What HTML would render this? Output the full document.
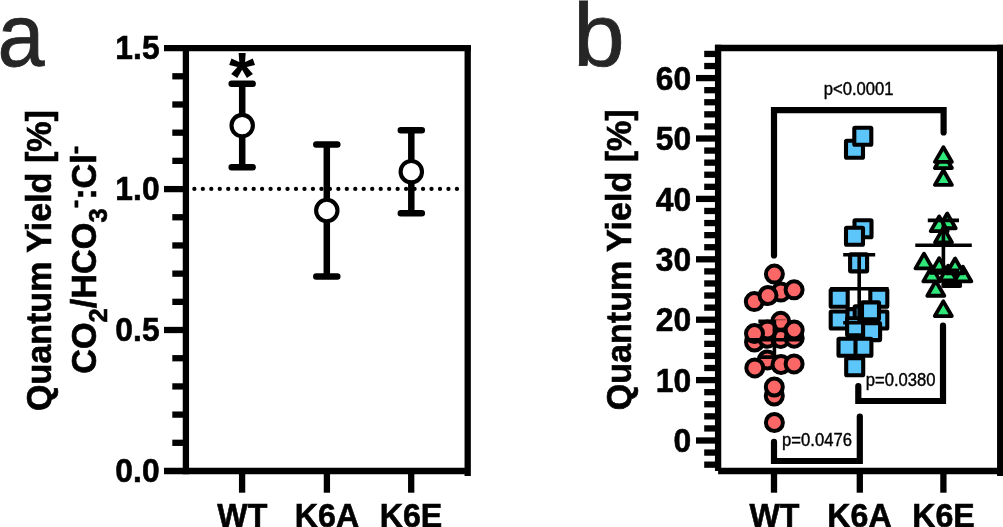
<!DOCTYPE html>
<html lang="en"><head><meta charset="utf-8"><title>Quantum Yield figure</title>
<style>
html,body{margin:0;padding:0;background:#fff;}
body{width:1003px;height:527px;overflow:hidden;}
svg{display:block;}
text{font-family:"Liberation Sans",sans-serif;}
.b{font-weight:bold;fill:#000;stroke:#000;stroke-width:0.6px;}
.bn{font-weight:bold;fill:#000;}
.pv{fill:#000;stroke:#000;stroke-width:0.4px;}
.pl{font-size:88.5px;fill:#262626;stroke:#262626;stroke-width:0.8px;}
.ax{stroke:#000;stroke-width:6.3;fill:none;}
.eb{stroke:#000;stroke-width:6.5;fill:none;stroke-linecap:round;}
.sb{stroke:#000;stroke-width:3.6;fill:none;stroke-linecap:butt;}
.br{stroke:#000;stroke-width:6.2;fill:none;stroke-linecap:round;stroke-linejoin:miter;}
.c{fill:#fb6767;stroke:#000;stroke-width:4;}
.s{fill:#5cc6fa;stroke:#000;stroke-width:4.1;stroke-linejoin:round;}
.t{fill:#2ee87a;stroke:#000;stroke-width:3.8;stroke-linejoin:round;}
.o{fill:#fff;stroke:#000;stroke-width:4.1;}
</style></head><body>
<svg width="1003" height="527" viewBox="0 0 1003 527">
<rect width="1003" height="527" fill="#fff"/>

<!-- panel a -->
<text class="pl" transform="translate(-2.4 65.6) scale(0.955 1)">a</text>
<g class="ax">
<path d="M164 48.1H470.9"/>
<path d="M185.9 44.9V474.2"/>
<path d="M467.7 44.9V475.9"/>
<path d="M164 471.0H467.7"/>
<path d="M164 189.1H185.9"/>
<path d="M164 330.0H185.9"/>
<path d="M172.3 76.29H185.9"/>
<path d="M172.3 104.49H185.9"/>
<path d="M172.3 132.68H185.9"/>
<path d="M172.3 160.87H185.9"/>
<path d="M172.3 217.26H185.9"/>
<path d="M172.3 245.45H185.9"/>
<path d="M172.3 273.65H185.9"/>
<path d="M172.3 301.84H185.9"/>
<path d="M172.3 358.23H185.9"/>
<path d="M172.3 386.42H185.9"/>
<path d="M172.3 414.61H185.9"/>
<path d="M172.3 442.81H185.9"/>
<path d="M242.1 471.0V492.7"/>
<path d="M326.9 471.0V492.7"/>
<path d="M411.2 471.0V492.7"/>
</g>
<text class="b" font-size="33.5" text-anchor="end" transform="translate(159.6 59.3) scale(0.95 1)">1.5</text>
<text class="b" font-size="33.5" text-anchor="end" transform="translate(159.6 200.3) scale(0.95 1)">1.0</text>
<text class="b" font-size="33.5" text-anchor="end" transform="translate(159.6 341.2) scale(0.95 1)">0.5</text>
<text class="b" font-size="33.5" text-anchor="end" transform="translate(159.6 482.2) scale(0.95 1)">0.0</text>
<text class="b" font-size="33.5" text-anchor="middle" transform="translate(242.3 526.6) scale(0.96 1)">WT</text>
<text class="b" font-size="33.5" text-anchor="middle" transform="translate(327 526.6) scale(0.96 1)">K6A</text>
<text class="b" font-size="33.5" text-anchor="middle" transform="translate(411.0 526.6) scale(0.96 1)">K6E</text>
<path d="M194.36 188.9H460" stroke="#000" stroke-width="4.3" stroke-linecap="round" stroke-dasharray="0 8.47" fill="none"/>
<path class="eb" d="M231.7 83.8H252.7M231.7 167.3H252.7"/>
<path class="eb" style="stroke-linecap:butt" d="M242.2 83.8V167.3"/>
<circle class="o" cx="242.2" cy="125.6" r="10.7"/>
<path class="eb" d="M316.3 144.4H337.3M316.3 276.4H337.3"/>
<path class="eb" style="stroke-linecap:butt" d="M326.8 144.4V276.4"/>
<circle class="o" cx="326.8" cy="210.5" r="10.7"/>
<path class="eb" d="M400.8 130.3H421.8M400.8 213.2H421.8"/>
<path class="eb" style="stroke-linecap:butt" d="M411.3 130.3V213.2"/>
<circle class="o" cx="411.3" cy="171.7" r="10.7"/>
<text class="bn" font-size="67" text-anchor="middle" transform="translate(242.1 99.0) scale(1.0 1)">*</text>
<text class="b" font-size="35.5" text-anchor="middle" transform="translate(51.0 260.6) rotate(-90) scale(0.96 1)">Quantum Yield [%]</text>
<text class="b" font-size="35.5" text-anchor="middle" transform="translate(95.6 259.7) rotate(-90) scale(0.965 1)">CO<tspan font-size="26.5" dy="11">2</tspan><tspan dy="-11">/HCO</tspan><tspan font-size="26.5" dy="11">3</tspan><tspan font-size="26.5" dy="-23.4">-</tspan><tspan dy="12.4">:Cl</tspan><tspan font-size="26.5" dy="-12.4">-</tspan></text>
<!-- panel b -->
<text class="pl" transform="translate(573.2 65.8) scale(1.045 1)">b</text>
<g class="ax">
<path d="M714.9 48.0H1003.4000000000001"/>
<path d="M718.1 44.8V471.0"/>
<path d="M1000.2 44.8V475.9"/>
<path d="M718.1 471.0H1000.2"/>
<path d="M704.2 464.66H718.1"/>
<path d="M704.2 452.58H718.1"/>
<path d="M696 440.50H718.1"/>
<path d="M704.2 428.42H718.1"/>
<path d="M704.2 416.34H718.1"/>
<path d="M704.2 404.26H718.1"/>
<path d="M704.2 392.18H718.1"/>
<path d="M696 380.10H718.1"/>
<path d="M704.2 368.02H718.1"/>
<path d="M704.2 355.94H718.1"/>
<path d="M704.2 343.86H718.1"/>
<path d="M704.2 331.78H718.1"/>
<path d="M696 319.70H718.1"/>
<path d="M704.2 307.62H718.1"/>
<path d="M704.2 295.54H718.1"/>
<path d="M704.2 283.46H718.1"/>
<path d="M704.2 271.38H718.1"/>
<path d="M696 259.30H718.1"/>
<path d="M704.2 247.22H718.1"/>
<path d="M704.2 235.14H718.1"/>
<path d="M704.2 223.06H718.1"/>
<path d="M704.2 210.98H718.1"/>
<path d="M696 198.90H718.1"/>
<path d="M704.2 186.82H718.1"/>
<path d="M704.2 174.74H718.1"/>
<path d="M704.2 162.66H718.1"/>
<path d="M704.2 150.58H718.1"/>
<path d="M696 138.50H718.1"/>
<path d="M704.2 126.42H718.1"/>
<path d="M704.2 114.34H718.1"/>
<path d="M704.2 102.26H718.1"/>
<path d="M704.2 90.18H718.1"/>
<path d="M696 78.10H718.1"/>
<path d="M704.2 66.02H718.1"/>
<path d="M704.2 53.94H718.1"/>
<path d="M774 471.0V492.7"/>
<path d="M859.8 471.0V492.7"/>
<path d="M943.4 471.0V492.7"/>
</g>
<text class="b" font-size="33.5" text-anchor="end" transform="translate(691.2 452.1) scale(0.95 1)">0</text>
<text class="b" font-size="33.5" text-anchor="end" transform="translate(691.2 391.7) scale(0.95 1)">10</text>
<text class="b" font-size="33.5" text-anchor="end" transform="translate(691.2 331.3) scale(0.95 1)">20</text>
<text class="b" font-size="33.5" text-anchor="end" transform="translate(691.2 270.9) scale(0.95 1)">30</text>
<text class="b" font-size="33.5" text-anchor="end" transform="translate(691.2 210.5) scale(0.95 1)">40</text>
<text class="b" font-size="33.5" text-anchor="end" transform="translate(691.2 150.1) scale(0.95 1)">50</text>
<text class="b" font-size="33.5" text-anchor="end" transform="translate(691.2 89.7) scale(0.95 1)">60</text>
<text class="b" font-size="33.5" text-anchor="middle" transform="translate(774.5 526.6) scale(0.96 1)">WT</text>
<text class="b" font-size="33.5" text-anchor="middle" transform="translate(859.5 526.6) scale(0.96 1)">K6A</text>
<text class="b" font-size="33.5" text-anchor="middle" transform="translate(943.5 526.6) scale(0.96 1)">K6E</text>
<text class="b" font-size="35.5" text-anchor="middle" transform="translate(630.6 259.8) rotate(-90) scale(0.96 1)">Quantum Yield [%]</text>
<g class="c">
<circle cx="780.9" cy="292.1" r="8.5"/>
<circle cx="754.3" cy="301.6" r="8.5"/>
<circle cx="768" cy="295.5" r="8.5"/>
<circle cx="794.1" cy="289.8" r="8.5"/>
<circle cx="774.4" cy="274.1" r="8.5"/>
<circle cx="754.5" cy="342" r="8.5"/>
<circle cx="767.5" cy="338.2" r="8.5"/>
<circle cx="780.7" cy="338.4" r="8.5"/>
<circle cx="794.2" cy="338.2" r="8.5"/>
<circle cx="780.7" cy="321.3" r="8.5"/>
<circle cx="767.5" cy="329.9" r="8.5"/>
<circle cx="794.2" cy="330" r="8.5"/>
<circle cx="754.5" cy="333.6" r="8.5"/>
<circle cx="767.3" cy="359.9" r="8.5"/>
<circle cx="754.8" cy="367.9" r="8.5"/>
<circle cx="781" cy="364.5" r="8.5"/>
<circle cx="794.1" cy="363.9" r="8.5"/>
<circle cx="774.3" cy="396" r="8.5"/>
<circle cx="774.3" cy="387" r="8.5"/>
<circle cx="774.4" cy="422.5" r="8.5"/>
</g>
<path class="sb" d="M745.5 339.8H803.5M758.4 321.4H776.2M758.4 357.1H776.2M774.4 321.4V357.1"/>
<path d="M776 319.8H786" stroke="#000" stroke-opacity=".5" stroke-width="0.9" fill="none"/>
<g class="s">
<rect x="846.0" y="140.7" width="17.0" height="17.0" rx="0.8"/>
<rect x="854.3" y="127.8" width="17.0" height="17.0" rx="0.8"/>
<rect x="854.5" y="220.2" width="17.0" height="17.0" rx="0.8"/>
<rect x="846.0" y="227.8" width="17.0" height="17.0" rx="0.8"/>
<rect x="850.1" y="254.4" width="17.0" height="17.0" rx="0.8"/>
<rect x="830.7" y="289.7" width="17.0" height="17.0" rx="0.8"/>
<rect x="870.3" y="289.7" width="17.0" height="17.0" rx="0.8"/>
<rect x="830.7" y="311.5" width="17.0" height="17.0" rx="0.8"/>
<rect x="870.3" y="311.5" width="17.0" height="17.0" rx="0.8"/>
<rect x="847.5" y="309.1" width="17.0" height="17.0" rx="0.8"/>
<rect x="854.7" y="306.4" width="17.0" height="17.0" rx="0.8"/>
<rect x="847.1" y="318.2" width="17.0" height="17.0" rx="0.8"/>
<rect x="863.1" y="323.1" width="17.0" height="17.0" rx="0.8"/>
<rect x="862.0" y="302.4" width="17.0" height="17.0" rx="0.8"/>
<rect x="854.4" y="338.8" width="17.0" height="17.0" rx="0.8"/>
<rect x="838.5" y="338.8" width="17.0" height="17.0" rx="0.8"/>
<rect x="846.2" y="358.3" width="17.0" height="17.0" rx="0.8"/>
</g>
<g class="t">
<path d="M943.4 153.35L934.9 168.05H951.9Z"/>
<path d="M943.4 147.20L934.9 161.90H951.9Z"/>
<path d="M943.4 170.25L934.9 184.95H951.9Z"/>
<path d="M947.2 213.55L938.7 228.25H955.7Z"/>
<path d="M939.2 216.45L930.7 231.15H947.7Z"/>
<path d="M943.5 227.65L935.0 242.35H952.0Z"/>
<path d="M935.8 281.05L927.3 295.75H944.3Z"/>
<path d="M951.7 271.35L943.2 286.05H960.2Z"/>
<path d="M951.7 269.15L943.2 283.85H960.2Z"/>
<path d="M948.2 265.65L939.7 280.35H956.7Z"/>
<path d="M962.9 266.65L954.4 281.35H971.4Z"/>
<path d="M931.8 266.65L923.3 281.35H940.3Z"/>
<path d="M939.2 258.15L930.7 272.85H947.7Z"/>
<path d="M955.1 258.55L946.6 273.25H963.6Z"/>
<path d="M924.0 253.65L915.5 268.35H932.5Z"/>
<path d="M943.3 301.35L934.8 316.05H951.8Z"/>
</g>
<g class="sb">
<path d="M830.2 288.8H888.6M843.2 254.7H875.2M843.2 322.8H875.2M859.2 254.7V322.8"/>
<path d="M915.3 245.3H971.8M927.8 220.4H959M927.8 270.4H959M943.4 220.4V270.4"/>
</g>
<g class="br">
<path d="M774 255.4V110.1H943.6V132.5" />
<path d="M858.3 386V401H943V325.5"/>
<path d="M774 441.8V461H859.8V416.5"/>
</g>
<text class="pv" font-size="17.6" text-anchor="start" transform="translate(823.8 94.5) scale(0.945 1)">p&lt;0.0001</text>
<text class="pv" font-size="17.6" text-anchor="start" transform="translate(865.8 386.3) scale(0.945 1)">p=0.0380</text>
<text class="pv" font-size="17.6" text-anchor="start" transform="translate(782.1 446.2) scale(0.945 1)">p=0.0476</text>
</svg></body></html>
